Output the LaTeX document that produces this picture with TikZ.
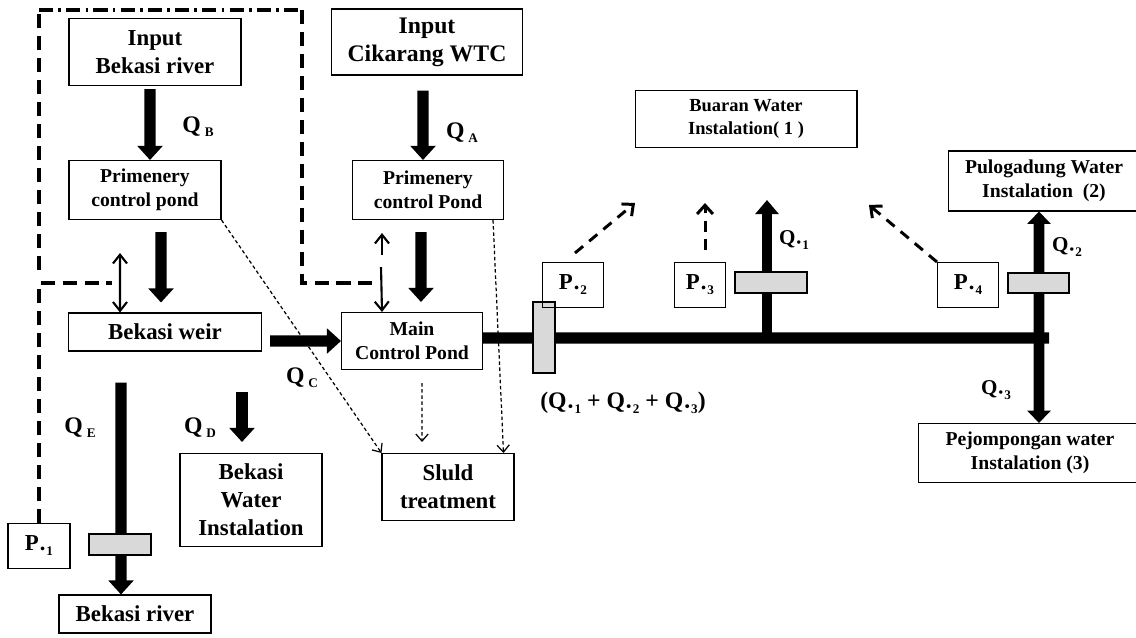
\documentclass[tikz,border=0pt]{standalone}
\usepackage{fontspec}
\setmainfont{Liberation Serif}
\usepackage{tikz}
\usetikzlibrary{arrows.meta}

\newcommand{\qsub}[1]{Q\,\raisebox{-0.35ex}{\fontsize{7.5}{8}\selectfont #1}}
\newcommand{\qdot}[2]{#1\raisebox{-0.55ex}{·}\raisebox{-0.5ex}{\fontsize{7.5}{8}\selectfont #2}}

\begin{document}
\begin{tikzpicture}[x=0.02cm, y=-0.02cm,
  box/.style={draw, line width=0.6pt, inner sep=0pt, align=center, font=\fontsize{13}{16}\selectfont\bfseries},
  smallbox/.style={box, font=\fontsize{11.2}{13.5}\selectfont\bfseries},
  lab/.style={inner sep=0pt, font=\fontsize{13.5}{16}\selectfont\bfseries},
  flow/.style={line width=6.5pt, -{Triangle[width=14pt,length=8pt]}},
  pipe/.style={line width=6.5pt},
  valve/.style={draw, fill=gray!30, line width=1.4pt, inner sep=0pt},
  ctrl/.style={line width=2pt, dash pattern=on 8pt off 4.5pt},
  link/.style={line width=1.2pt, {Straight Barb[length=5pt,width=8pt]}-{Straight Barb[length=5pt,width=8pt]}},
  sludge/.style={line width=0.7pt, dash pattern=on 2pt off 1.5pt, -{Straight Barb[length=4pt,width=7pt]}},
  sig/.style={line width=1.7pt, dash pattern=on 6pt off 4.5pt, -{Straight Barb[length=5pt,width=9pt]}}]
\useasboundingbox (0,0) rectangle (1136,637);

% Bekasi side
\node[box, minimum width=3.44cm, minimum height=1.34cm] (inBekasi) at (155,52) {Input\\Bekasi river};
\node[smallbox, minimum width=3.04cm, minimum height=1.18cm] (pondB) at (145,190) {Primenery\\control pond};
\node[box, minimum width=3.86cm, minimum height=0.76cm] (weir) at (165,332) {Bekasi weir};
\node[box, minimum width=2.84cm, minimum height=1.86cm] (bekasiWI) at (251,500) {Bekasi\\Water\\Instalation};
\node[box, minimum width=3.04cm, minimum height=0.76cm] (river) at (135,614) {Bekasi river};
\node[box, minimum width=1.24cm, minimum height=0.90cm] (p1) at (39,546) {\qdot{P}{1}};

% Cikarang side
\node[box, font=\fontsize{13.5}{16}\selectfont\bfseries, minimum width=3.82cm, minimum height=1.32cm] (inCikarang) at (427,42) {Input\\Cikarang WTC};
\node[smallbox, minimum width=3.02cm, minimum height=1.18cm] (pondA) at (428,190) {Primenery\\control Pond};
\node[smallbox, minimum width=2.82cm, minimum height=1.14cm] (mainPond) at (412,341) {Main\\Control Pond};
\node[box, minimum width=2.64cm, minimum height=1.34cm] (sluld) at (448,487) {Sluld\\treatment};

% receiving installations
\node[smallbox, font=\fontsize{10.5}{13}\selectfont\bfseries, minimum width=4.44cm, minimum height=1.14cm] (buaran) at (746,119) {Buaran Water\\Instalation( 1 )};
\node[smallbox, minimum width=3.84cm, minimum height=1.2cm] (pulo) at (1044,181) {Pulogadung Water\\Instalation~~(2)};
\node[smallbox, minimum width=4.48cm, minimum height=1.18cm] (pejom) at (1030,453) {Pejompongan water\\Instalation (3)};

% flows
\draw[flow] ([shift={(-0.1cm,-0.06cm)}]inBekasi.south) -- ([xshift=0.1cm]pondB.north);
\draw[flow] ([shift={(0.32cm,-0.24cm)}]pondB.south) -- ([shift={(-0.08cm,0.2cm)}]weir.north);
\draw[flow] ([shift={(0.16cm,-0.18cm)}]weir.east) -- (mainPond.west);
\draw[flow] ([shift={(-0.88cm,-0.62cm)}]weir.south) -- ([xshift=-0.28cm]river.north);
\draw[flow] ([shift={(-0.18cm,1.22cm)}]bekasiWI.north) -- ([shift={(-0.18cm,0.22cm)}]bekasiWI.north);
\draw[flow] ([shift={(-0.08cm,-0.3cm)}]inCikarang.south) -- ([xshift=-0.1cm]pondA.north);
\draw[flow] ([shift={(-0.14cm,-0.24cm)}]pondA.south) -- ([shift={(0.18cm,0.2cm)}]mainPond.north);

% main distribution pipe
\coordinate (pipeEnd) at (1049,338);
\coordinate (tee1) at (767,338);
\draw[pipe] ([yshift=0.06cm]mainPond.east) -- (pipeEnd);
\draw[line width=5.5pt, -{Triangle[width=13pt,length=8pt]}] (tee1) -- ([shift={(0.42cm,-1.04cm)}]buaran.south);
\draw[line width=6pt, {Triangle[width=13pt,length=7pt]}-{Triangle[width=13pt,length=7pt]}] ([xshift=-0.1cm]pulo.south) -- ([xshift=0.18cm]pejom.north);

% valves
\node[valve, minimum width=0.44cm, minimum height=1.42cm] (vMain) at (544,337.5) {};
\node[valve, minimum width=1.44cm, minimum height=0.42cm] (v1) at (771,282.5) {};
\node[valve, minimum width=1.22cm, minimum height=0.40cm] (v2) at (1038.5,283) {};
\node[valve, minimum width=1.24cm, minimum height=0.42cm] (vE) at (120,544.5) {};

% pressure points
\node[box, minimum width=1.22cm, minimum height=0.90cm] (p2) at (573,285) {\qdot{P}{2}};
\node[box, minimum width=1.02cm, minimum height=0.90cm] (p3) at (700,285) {\qdot{P}{3}};
\node[box, minimum width=1.22cm, minimum height=0.90cm] (p4) at (968,285) {\qdot{P}{4}};
\draw[sig] ([shift={(0.04cm,0.18cm)}]p2.north) -- ++(60,-50);
\draw[sig] ([shift={(0.1cm,0.24cm)}]p3.north) -- ++(0,-47);
\draw[sig] (p4.north west) -- ++(-68,-57);

% sludge lines
\draw[sludge] (pondB.south east) -- (sluld.north west);
\draw[sludge] ([shift={(0.2cm,-0.26cm)}]mainPond.south) -- ([shift={(-0.52cm,0.22cm)}]sluld.north);
\draw[sludge] ([xshift=-0.22cm]pondA.south east) -- ([xshift=-0.22cm]sluld.north east);

% control links
\coordinate (linkB) at (120,283);
\coordinate (linkA) at (382,283);
\draw[link] ([shift={(-0.5cm,-0.66cm)}]pondB.south) -- ([xshift=-0.9cm]weir.north);
\draw[line width=1.2pt, -{Straight Barb[length=5pt,width=8pt]}] ([shift={(-0.92cm,-0.7cm)}]pondA.south) -- ([shift={(-0.92cm,-0.26cm)}]pondA.south);
\draw[line width=1.2pt, -{Straight Barb[length=5pt,width=8pt]}] ([shift={(-0.94cm,-0.94cm)}]pondA.south) -- ([xshift=-0.6cm]mainPond.north);
\draw[ctrl] (p1.north) |- ([xshift=-0.16cm]linkB);
\draw[ctrl] (39,270) -- (39,10);
\draw[ctrl, dash pattern=on 8pt off 3pt on 1.5pt off 3pt] (39,10) -- (302,10);
\draw[ctrl] (302,10) |- ([xshift=-0.14cm]linkA);

% flow labels
\node[lab] (qB) at (198,127) {\qsub{B}};
\node[lab] (qA) at (462,133) {\qsub{A}};
\node[lab] (qC) at (302,378) {\qsub{C}};
\node[lab] (qD) at (200,428) {\qsub{D}};
\node[lab] (qE) at (80,428) {\qsub{E}};
\node[lab, font=\fontsize{12}{14}\selectfont\bfseries] (q1) at (794,240) {\qdot{Q}{1}};
\node[lab, font=\fontsize{12}{14}\selectfont\bfseries] (q2) at (1067,247) {\qdot{Q}{2}};
\node[lab, font=\fontsize{12}{14}\selectfont\bfseries] (q3) at (996,390) {\qdot{Q}{3}};
\node[lab] (qSum) at (623,403) {(\qdot{Q}{1} + \qdot{Q}{2} + \qdot{Q}{3})};
\end{tikzpicture}
\end{document}
